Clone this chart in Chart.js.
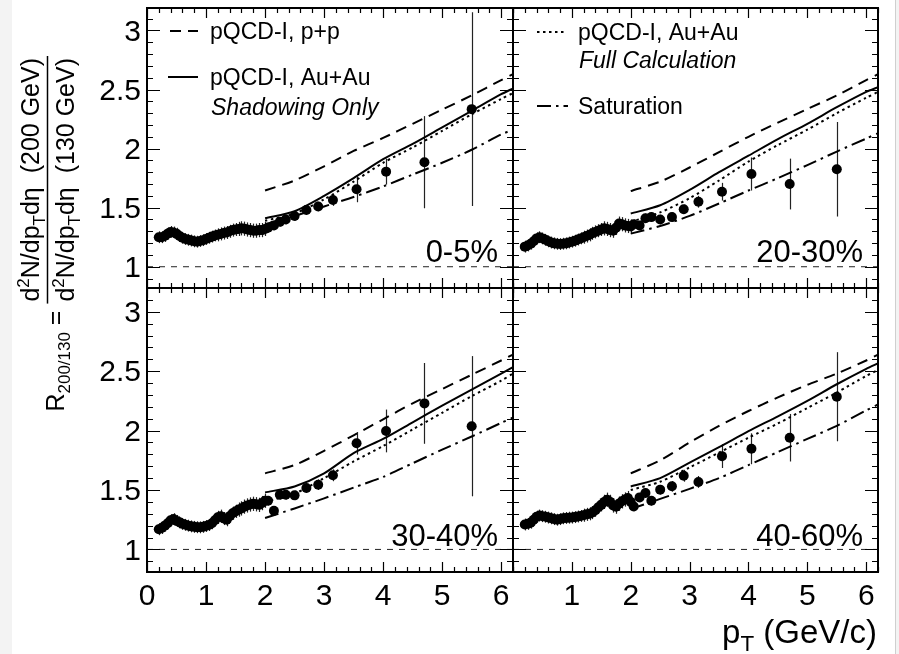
<!DOCTYPE html>
<html>
<head>
<meta charset="utf-8">
<script src="https://cdn.jsdelivr.net/npm/chart.js@4.4.1/dist/chart.umd.min.js"></script>
<style>
  html, body { margin:0; padding:0; background:#ffffff; }
  #page { position:relative; width:899px; height:654px; overflow:hidden; background:#fff; }
  #page canvas { position:absolute; left:0; top:0; }
  #lstrip { position:absolute; left:0; top:0; width:12px; height:654px; background:#f3f3f3; }
  #rstrip { position:absolute; left:895px; top:0; width:4px; height:654px; background:#f3f3f3; border-left:1px solid #cfcfcf; }
</style>
</head>
<body>
<div id="page">
  <div id="lstrip"></div><div id="rstrip"></div>
  <canvas id="c0" width="899" height="654"></canvas>
  <canvas id="c1" width="899" height="654"></canvas>
  <canvas id="c2" width="899" height="654"></canvas>
  <canvas id="c3" width="899" height="654"></canvas>
</div>
<script>
const FONT = "'Liberation Sans', Arial, Helvetica, sans-serif";

// ---------------- axes / labels ----------------
const xRange = [0, 6.2];
const xTicksLeft = [0, 1, 2, 3, 4, 5, 6];
const xTicksRight = [1, 2, 3, 4, 5, 6];
const yTicks = [1, 1.5, 2, 2.5, 3];
const yRangeTop = [0.82, 3.19];
const yRangeBottom = [0.81, 3.20];
const unityLevel = [1];

const centralityLabels = ['0-5%', '20-30%', '30-40%', '40-60%'];
const legendLabels = ['pQCD-I, p+p', 'pQCD-I, Au+Au', 'Shadowing Only', 'pQCD-I, Au+Au', 'Full Calculation', 'Saturation'];

// ---------------- data: low pT band ----------------
const lowPt = [0.20,0.25,0.30,0.35,0.40,0.45,0.50,0.55,0.60,0.65,0.70,0.75,0.80,0.85,0.90,0.95,1.00,1.05,1.10,1.15,1.20,1.25,1.30,1.35,1.40,1.45,1.50,1.55,1.60,1.65,1.70,1.75,1.80,1.85,1.90,1.95,2.00];
const lowErr = [0.05,0.05,0.05,0.05,0.05,0.05,0.05,0.05,0.05,0.05,0.05,0.05,0.05,0.05,0.05,0.05,0.05,0.05,0.05,0.05,0.055,0.055,0.055,0.055,0.055,0.055,0.055,0.06,0.06,0.06,0.06,0.06,0.06,0.06,0.06,0.06,0.06];
const R_low_0_5   = [1.25,1.25,1.26,1.28,1.295,1.29,1.28,1.26,1.245,1.235,1.228,1.222,1.215,1.212,1.218,1.225,1.235,1.245,1.255,1.265,1.27,1.278,1.285,1.29,1.30,1.31,1.315,1.32,1.325,1.322,1.315,1.31,1.305,1.305,1.31,1.31,1.32];
const R_low_20_30 = [1.17,1.18,1.195,1.215,1.24,1.25,1.24,1.228,1.215,1.205,1.198,1.194,1.192,1.195,1.198,1.205,1.212,1.22,1.23,1.24,1.25,1.26,1.27,1.283,1.295,1.305,1.315,1.325,1.32,1.31,1.305,1.33,1.365,1.36,1.35,1.345,1.34];
const R_low_30_40 = [1.17,1.18,1.20,1.22,1.245,1.255,1.24,1.228,1.215,1.207,1.20,1.194,1.19,1.187,1.186,1.19,1.197,1.205,1.22,1.245,1.27,1.28,1.26,1.25,1.28,1.305,1.32,1.335,1.345,1.36,1.37,1.378,1.384,1.38,1.375,1.39,1.41];
const R_low_40_60 = [1.21,1.215,1.225,1.25,1.275,1.285,1.28,1.275,1.268,1.262,1.255,1.25,1.255,1.262,1.265,1.267,1.268,1.272,1.277,1.282,1.288,1.295,1.30,1.31,1.33,1.355,1.375,1.40,1.418,1.40,1.37,1.36,1.385,1.405,1.42,1.432,1.40];

// ---------------- data: high pT points ----------------
const highPt = [2.05,2.15,2.25,2.35,2.5,2.7,2.9,3.15,3.55,4.05,4.7,5.5];
const R_high_0_5   = [1.33,1.35,1.38,1.40,1.43,1.48,1.51,1.565,1.656,1.805,1.885,2.334];
const E_high_0_5   = [0.04,0.04,0.04,0.04,0.04,0.04,0.04,0.05,0.11,0.11,0.39,0.82];
const R_high_20_30 = [1.36,1.35,1.41,1.42,1.40,1.42,1.486,1.55,1.635,1.785,1.70,1.825];
const E_high_20_30 = [0.04,0.04,0.04,0.04,0.04,0.04,0.04,0.05,0.075,0.14,0.215,0.40];
const R_high_30_40 = [1.41,1.325,1.46,1.46,1.455,1.517,1.545,1.624,1.893,1.997,2.229,2.037];
const E_high_30_40 = [0.04,0.04,0.04,0.04,0.04,0.04,0.045,0.05,0.095,0.18,0.34,0.59];
const R_high_40_60 = [1.362,1.438,1.475,1.41,1.503,1.531,1.62,1.568,1.785,1.847,1.94,2.285];
const E_high_40_60 = [0.04,0.04,0.04,0.04,0.04,0.045,0.05,0.05,0.10,0.13,0.20,0.375];

// ---------------- theory curves ----------------
const thPt = [2.0,2.5,3.0,3.5,4.0,4.5,5.0,5.5,6.0,6.2];
const pp_0_5   = [1.645,1.73,1.85,1.98,2.09,2.21,2.33,2.45,2.58,2.63];
const sh_0_5   = [1.41,1.47,1.60,1.75,1.91,2.04,2.18,2.32,2.46,2.51];
const full_0_5 = [1.39,1.45,1.57,1.72,1.88,2.01,2.15,2.29,2.42,2.47];
const sat_0_5  = [1.36,1.43,1.51,1.59,1.68,1.78,1.88,1.99,2.12,2.16];

const pp_20_30   = [1.64,1.72,1.84,1.97,2.10,2.22,2.335,2.45,2.58,2.63];
const sh_20_30   = [1.45,1.52,1.65,1.80,1.94,2.08,2.21,2.35,2.48,2.52];
const full_20_30 = [1.38,1.46,1.58,1.73,1.89,2.03,2.16,2.30,2.43,2.48];
const sat_20_30  = [1.28,1.345,1.43,1.535,1.645,1.75,1.86,1.975,2.085,2.13];

const pp_30_40   = [1.64,1.71,1.83,1.96,2.095,2.23,2.35,2.47,2.59,2.64];
const sh_30_40   = [1.48,1.53,1.64,1.81,1.93,2.07,2.21,2.345,2.48,2.535];
const full_30_40 = [1.40,1.47,1.60,1.74,1.87,2.01,2.15,2.29,2.42,2.48];
const sat_30_40  = [1.265,1.345,1.43,1.52,1.61,1.725,1.84,1.95,2.065,2.11];

const pp_40_60   = [1.64,1.75,1.90,2.04,2.165,2.28,2.385,2.48,2.59,2.64];
const sh_40_60   = [1.53,1.60,1.73,1.86,1.995,2.12,2.25,2.39,2.52,2.565];
const full_40_60 = [1.50,1.57,1.69,1.815,1.94,2.06,2.19,2.32,2.46,2.51];
const sat_40_60  = [1.34,1.425,1.51,1.60,1.71,1.82,1.93,2.04,2.17,2.22];

// ---------------- styles ----------------
const DASH_PP = [11, 7];
const DASH_FULL = [2.5, 3.5];
const DASH_SAT = [14, 5, 2.5, 5];
const DASH_UNITY = [6, 6];

const panels = [
  { canvas:'c0', pad:{left:0, top:8, right:386, bottom:366}, showY:true, showX:false, xTicks:xTicksLeft, yRange:yRangeTop,
    label:centralityLabels[0], low:R_low_0_5, high:R_high_0_5, highErr:E_high_0_5, pp:pp_0_5, sh:sh_0_5, full:full_0_5, sat:sat_0_5,
    legend:'left', yTitle:true },
  { canvas:'c1', pad:{left:513, top:8, right:21, bottom:366}, showY:false, showX:false, xTicks:xTicksRight, yRange:yRangeTop,
    label:centralityLabels[1], low:R_low_20_30, high:R_high_20_30, highErr:E_high_20_30, pp:pp_20_30, sh:sh_20_30, full:full_20_30, sat:sat_20_30,
    legend:'right' },
  { canvas:'c2', pad:{left:0, top:288, right:386, bottom:0}, showY:true, showX:true, xTicks:xTicksLeft, yRange:yRangeBottom,
    label:centralityLabels[2], low:R_low_30_40, high:R_high_30_40, highErr:E_high_30_40, pp:pp_30_40, sh:sh_30_40, full:full_30_40, sat:sat_30_40 },
  { canvas:'c3', pad:{left:513, top:288, right:21, bottom:0}, showY:false, showX:true, xTicks:xTicksRight, yRange:yRangeBottom,
    label:centralityLabels[3], low:R_low_40_60, high:R_high_40_60, highErr:E_high_40_60, pp:pp_40_60, sh:sh_40_60, full:full_40_60, sat:sat_40_60,
    xTitle:true }
];

function pts(xs, ys) { return xs.map((x, i) => ({ x: x, y: ys[i] })); }

function runsWidth(ctx, runs, size) {
  let w = 0;
  for (const r of runs) {
    const fs = (r.sup || r.sub) ? size * 0.68 : size;
    ctx.font = (r.italic ? 'italic ' : '') + fs + 'px ' + FONT;
    w += ctx.measureText(r.t).width;
  }
  return w;
}
function drawRuns(ctx, runs, u, v, size) {
  for (const r of runs) {
    let fs = size, dv = 0;
    if (r.sup) { fs = size * 0.68; dv = -size * 0.40; }
    if (r.sub) { fs = size * 0.68; dv = size * 0.24; }
    ctx.font = (r.italic ? 'italic ' : '') + fs + 'px ' + FONT;
    ctx.fillText(r.t, u, v + dv);
    u += ctx.measureText(r.t).width;
  }
  return u;
}
function sample(ctx, x1, x2, y, dash) {
  ctx.save();
  ctx.setLineDash(dash);
  ctx.lineWidth = 2;
  ctx.strokeStyle = '#000';
  ctx.beginPath(); ctx.moveTo(x1, y); ctx.lineTo(x2, y); ctx.stroke();
  ctx.restore();
}

function makePlugin(p) {
  return {
    id: 'panelDecor',
    beforeDatasetsDraw(chart) {
      const ctx = chart.ctx, a = chart.chartArea;
      const xs = chart.scales.x, ys = chart.scales.y;
      const ds = chart.data.datasets[0];
      ctx.save();
      ctx.beginPath(); ctx.rect(a.left, a.top, a.right - a.left, a.bottom - a.top); ctx.clip();
      ctx.strokeStyle = '#222'; ctx.lineWidth = 1.2;
      ds.data.forEach((pt, i) => {
        const e = ds.errors[i];
        const px = Math.round(xs.getPixelForValue(pt.x)) + 0.5;
        ctx.beginPath();
        ctx.moveTo(px, ys.getPixelForValue(pt.y - e));
        ctx.lineTo(px, ys.getPixelForValue(pt.y + e));
        ctx.stroke();
      });
      ctx.restore();
    },
    afterDraw(chart) {
      const ctx = chart.ctx, a = chart.chartArea;
      const xs = chart.scales.x, ys = chart.scales.y;
      ctx.save();
      // ticks (inward, all four sides)
      ctx.strokeStyle = '#000'; ctx.lineWidth = 1.2;
      ctx.beginPath();
      for (let k = Math.ceil(p.yRange[0] * 10); k <= Math.floor(p.yRange[1] * 10); k++) {
        const py = Math.round(ys.getPixelForValue(k / 10)) + 0.5;
        const L = (k % 5 === 0) ? 13 : 6;
        ctx.moveTo(a.left, py); ctx.lineTo(a.left + L, py);
        ctx.moveTo(a.right, py); ctx.lineTo(a.right - L, py);
      }
      for (let k = 0; k <= 31; k++) {
        const px = Math.round(xs.getPixelForValue(k * 0.2)) + 0.5;
        const L = (k % 5 === 0) ? 10 : 5;
        ctx.moveTo(px, a.bottom); ctx.lineTo(px, a.bottom - L);
        ctx.moveTo(px, a.top); ctx.lineTo(px, a.top + L);
      }
      ctx.stroke();
      // frame
      ctx.lineWidth = 2;
      ctx.strokeRect(a.left, a.top, a.right - a.left, a.bottom - a.top);

      // centrality label
      ctx.fillStyle = '#000';
      ctx.font = '31px ' + FONT;
      ctx.textAlign = 'right'; ctx.textBaseline = 'alphabetic';
      ctx.fillText(p.label, a.right - 15, a.bottom - 26);
      ctx.textAlign = 'left';

      // legends
      ctx.font = '23px ' + FONT;
      if (p.legend === 'left') {
        sample(ctx, 170, 198, 31, DASH_PP);
        ctx.fillText(legendLabels[0], 210, 39);
        sample(ctx, 168, 198, 77, []);
        ctx.fillText(legendLabels[1], 210, 85);
        ctx.font = 'italic 23px ' + FONT;
        ctx.fillText(legendLabels[2], 211, 115);
      } else if (p.legend === 'right') {
        sample(ctx, 537, 566, 32, DASH_FULL);
        ctx.fillText(legendLabels[3], 578, 40);
        ctx.font = 'italic 23px ' + FONT;
        ctx.fillText(legendLabels[4], 579, 68);
        ctx.font = '23px ' + FONT;
        sample(ctx, 537, 568, 106, DASH_SAT);
        ctx.fillText(legendLabels[5], 578, 114);
      }

      // y-axis title (rotated)
      if (p.yTitle) {
        const S = 25;
        const num = [{t:'d'},{t:'2',sup:true},{t:'N/dp'},{t:'T',sub:true},{t:'d\u03b7  (200 GeV)'}];
        const den = [{t:'d'},{t:'2',sup:true},{t:'N/dp'},{t:'T',sub:true},{t:'d\u03b7  (130 GeV)'}];
        const lhs = [{t:'R'},{t:'200/130',sub:true},{t:' = '}];
        const wN = runsWidth(ctx, num, S), wD = runsWidth(ctx, den, S);
        const wF = Math.max(wN, wD) + 4;
        const wL = runsWidth(ctx, lhs, S);
        ctx.save();
        ctx.rotate(-Math.PI / 2);
        const uEnd = -56;
        const uFrac = uEnd - wF;
        const uStart = uFrac - wL;
        drawRuns(ctx, lhs, uStart, 64, S);
        ctx.lineWidth = 1.5; ctx.strokeStyle = '#000';
        ctx.beginPath(); ctx.moveTo(uFrac, 47.5); ctx.lineTo(uEnd, 47.5); ctx.stroke();
        drawRuns(ctx, num, uFrac + (wF - wN) / 2, 39, S);
        drawRuns(ctx, den, uFrac + (wF - wD) / 2, 74, S);
        ctx.restore();
      }

      // x-axis title
      if (p.xTitle) {
        const runs = [{t:'p'},{t:'T',sub:true},{t:' (GeV/c)'}];
        const S = 33;
        const w = runsWidth(ctx, runs, S);
        drawRuns(ctx, runs, 877 - w, 643, S);
      }
      ctx.restore();
    }
  };
}

panels.forEach(p => {
  const datasets = [
    { label:'data', data: pts(lowPt, p.low).concat(pts(highPt, p.high)), errors: lowErr.concat(p.highErr),
      showLine:false, pointRadius:5, pointHoverRadius:5, pointBackgroundColor:'#000', pointBorderColor:'#000', pointBorderWidth:0, order:0 },
    { label:legendLabels[0], data: pts(thPt, p.pp), showLine:true, borderColor:'#000', borderWidth:2, borderDash:DASH_PP, pointRadius:0, tension:0.25, order:1 },
    { label:legendLabels[1], data: pts(thPt, p.sh), showLine:true, borderColor:'#000', borderWidth:2, pointRadius:0, tension:0.25, order:2 },
    { label:legendLabels[4], data: pts(thPt, p.full), showLine:true, borderColor:'#000', borderWidth:2, borderDash:DASH_FULL, pointRadius:0, tension:0.25, order:3 },
    { label:legendLabels[5], data: pts(thPt, p.sat), showLine:true, borderColor:'#000', borderWidth:2, borderDash:DASH_SAT, pointRadius:0, tension:0.25, order:4 },
    { label:'unity', data: xRange.map(x => ({ x: x, y: unityLevel[0] })), showLine:true, borderColor:'#222', borderWidth:1, borderDash:DASH_UNITY, pointRadius:0, order:5 }
  ];
  new Chart(document.getElementById(p.canvas), {
    type: 'scatter',
    data: { datasets },
    options: {
      responsive: false,
      animation: false,
      events: [],
      layout: { padding: p.pad },
      plugins: { legend: { display:false }, tooltip: { enabled:false } },
      scales: {
        x: {
          type:'linear', min:xRange[0], max:xRange[1], display:p.showX, position:'bottom',
          afterBuildTicks: s => { s.ticks = p.xTicks.map(v => ({ value: v })); },
          afterFit: s => { s.height = p.showX ? 82 : 0; s.paddingLeft = 0; s.paddingRight = 0; },
          grid: { display:false, drawTicks:false }, border: { display:false },
          ticks: { font:{ family:FONT, size:30 }, color:'#000', padding:7, maxRotation:0, autoSkip:false, callback: v => String(v) }
        },
        y: {
          type:'linear', min:p.yRange[0], max:p.yRange[1], display:p.showY, position:'left',
          afterBuildTicks: s => { s.ticks = yTicks.map(v => ({ value: v })); },
          afterFit: s => { s.width = p.showY ? 147 : 0; s.paddingTop = 0; s.paddingBottom = 0; },
          grid: { display:false, drawTicks:false }, border: { display:false },
          ticks: { font:{ family:FONT, size:30 }, color:'#000', padding:6, labelOffset:2, autoSkip:false, callback: v => String(v) }
        }
      }
    },
    plugins: [makePlugin(p)]
  });
});
</script>
</body>
</html>
